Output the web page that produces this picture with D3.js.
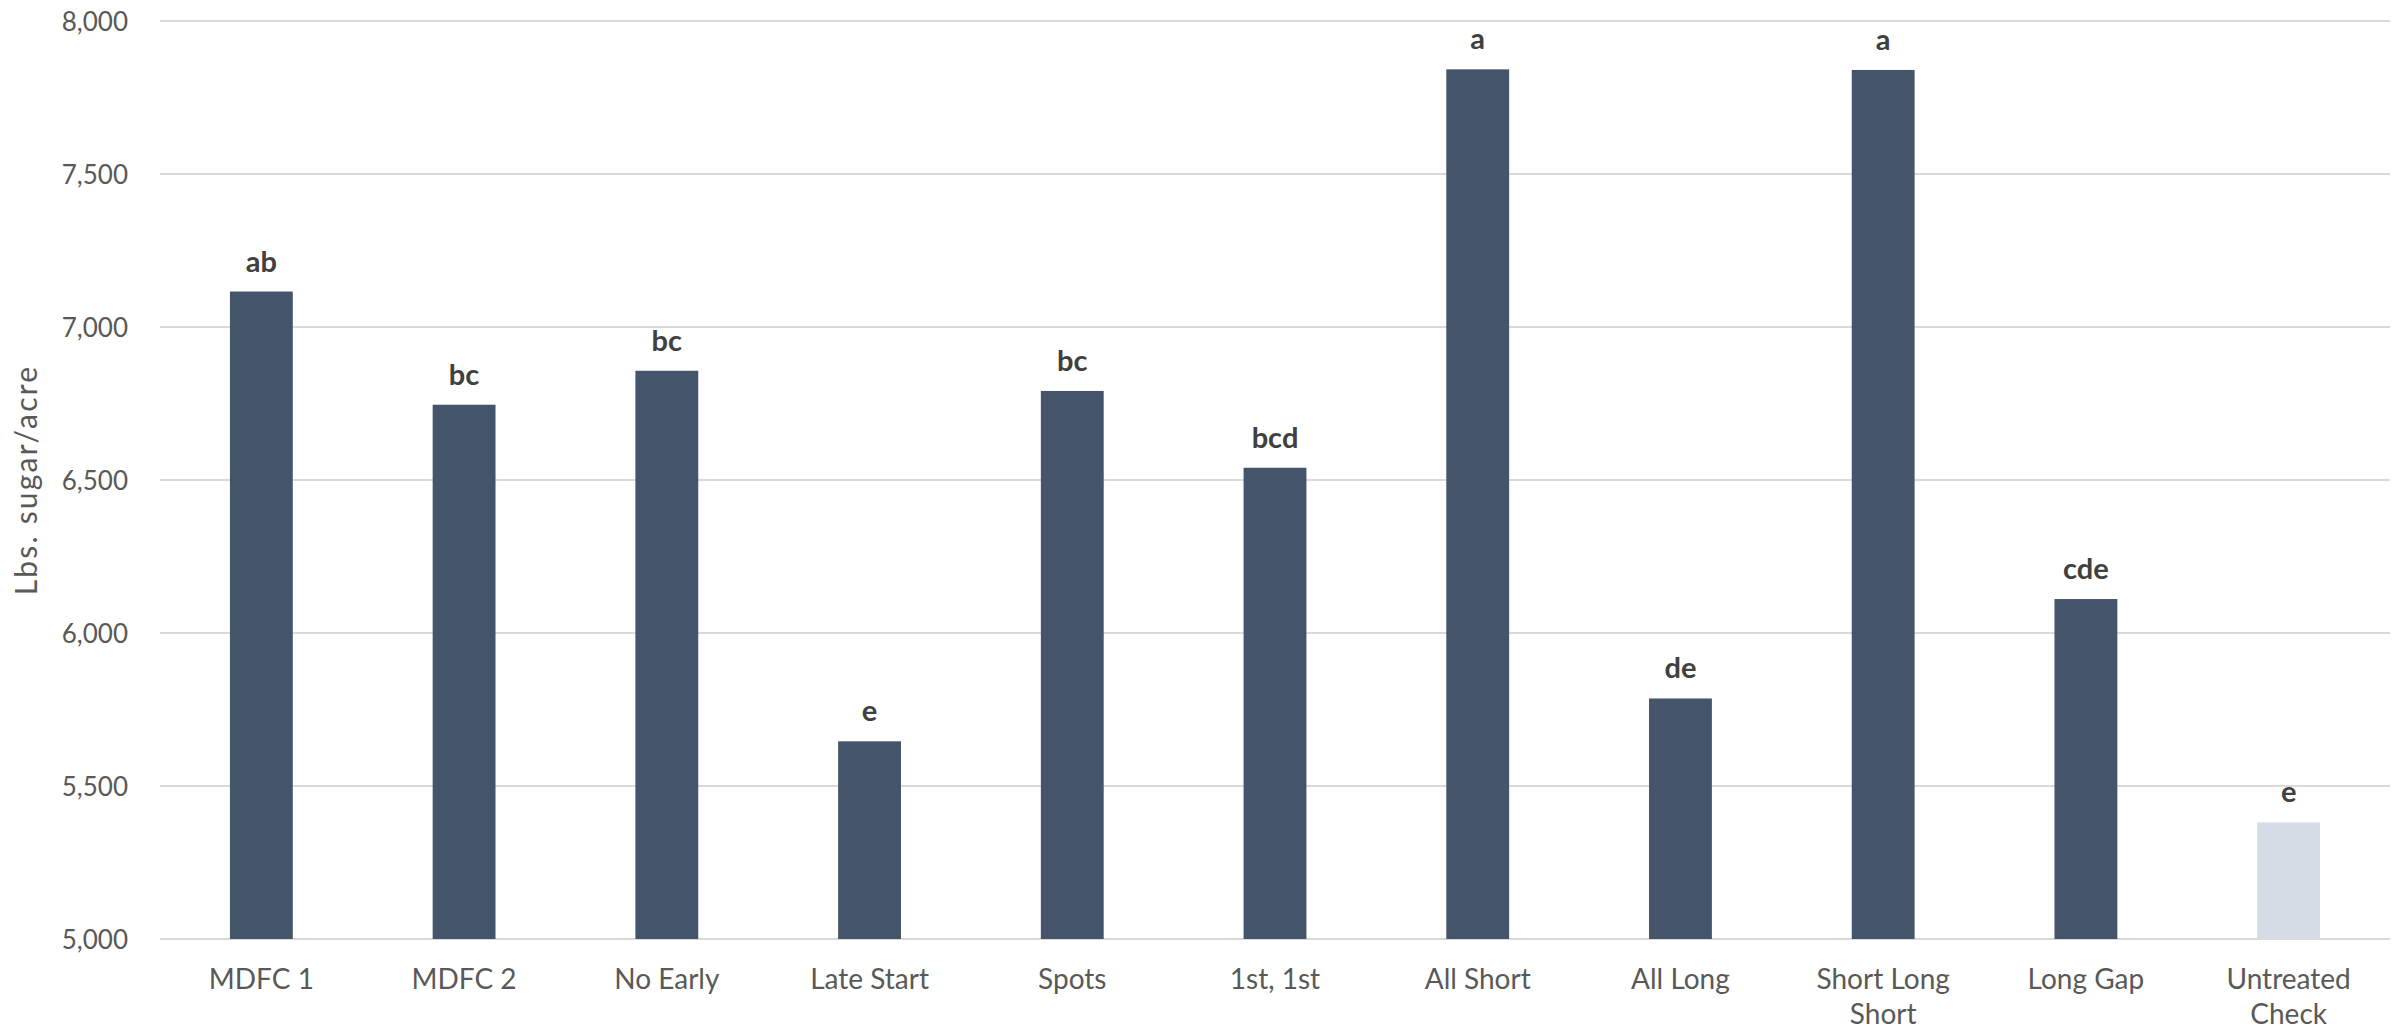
<!DOCTYPE html>
<html>
<head>
<meta charset="utf-8">
<script src="https://cdn.jsdelivr.net/npm/d3@7"></script>
<style>
  html, body { margin: 0; padding: 0; background: #fff; }
  svg { display: block; }
</style>
</head>
<body>
<svg id="chart" width="2402" height="1032"></svg>
<script>
const categories = ["MDFC 1", "MDFC 2", "No Early", "Late Start", "Spots", "1st, 1st", "All Short", "All Long", "Short Long Short", "Long Gap", "Untreated Check"];
const categoryLines = [["MDFC 1"], ["MDFC 2"], ["No Early"], ["Late Start"], ["Spots"], ["1st, 1st"], ["All Short"], ["All Long"], ["Short Long", "Short"], ["Long Gap"], ["Untreated", "Check"]];
const values = [7116, 6746, 6857, 5646, 6791, 6540, 7842, 5786, 7840, 6111, 5381];
const letters = ["ab", "bc", "bc", "e", "bc", "bcd", "a", "de", "a", "cde", "e"];
const yTicks = [5000, 5500, 6000, 6500, 7000, 7500, 8000];
const yTitle = "Lbs. sugar/acre";

(function () {
const FONT = "Lato, 'Open Sans', sans-serif";
const svg = d3.select("#chart");
const mLeft = 160, mRight = 2390, mTop = 21, mBottom = 939;

const x = d3.scaleBand().domain(categories).range([mLeft, mRight]).paddingInner(0.69).paddingOuter(0.345);
const y = d3.scaleLinear().domain([5000, 8000]).range([mBottom, mTop]);

// gridlines
svg.append("g").selectAll("line").data(yTicks).join("line")
  .attr("x1", mLeft).attr("x2", mRight)
  .attr("y1", d => y(d)).attr("y2", d => y(d))
  .attr("stroke", "#D9D9D9").attr("stroke-width", 2);

// y axis labels
const yAxis = d3.axisLeft(y).tickValues(yTicks).tickSize(0).tickPadding(0).tickFormat(d3.format(","));
const gy = svg.append("g").attr("transform", `translate(${mLeft - 32},0)`).call(yAxis);
gy.select(".domain").remove();
gy.selectAll("text").attr("font-family", FONT).attr("font-size", 26).attr("fill", "#595959").attr("dy", "0.35em");

// y title
svg.append("text")
  .attr("transform", `translate(37,${(mTop + mBottom) / 2}) rotate(-90)`)
  .attr("text-anchor", "middle")
  .attr("font-family", FONT).attr("font-size", 30).attr("letter-spacing", 2.2).attr("fill", "#595959")
  .text(yTitle);

// bars
svg.append("g").selectAll("rect").data(categories).join("rect")
  .attr("x", d => x(d))
  .attr("width", x.bandwidth())
  .attr("y", (d, i) => y(values[i]))
  .attr("height", (d, i) => y(5000) - y(values[i]))
  .attr("fill", (d, i) => i === categories.length - 1 ? "#D6DCE5" : "#44546A");

// data labels
svg.append("g").selectAll("text").data(categories).join("text")
  .attr("x", d => x(d) + x.bandwidth() / 2)
  .attr("y", (d, i) => y(values[i]) - 20)
  .attr("text-anchor", "middle")
  .attr("font-family", FONT).attr("font-size", 29).attr("font-weight", "bold").attr("fill", "#404040")
  .text((d, i) => letters[i]);

// x labels
const xl = svg.append("g").selectAll("text").data(categories).join("text")
  .attr("x", d => x(d) + x.bandwidth() / 2)
  .attr("y", 989)
  .attr("text-anchor", "middle")
  .attr("font-family", FONT).attr("font-size", 28).attr("fill", "#595959");
xl.each(function (d, i) {
  const t = d3.select(this);
  categoryLines[i].forEach((line, j) => {
    t.append("tspan").attr("x", x(d) + x.bandwidth() / 2).attr("dy", j === 0 ? 0 : 35).text(line);
  });
});
})();
</script>
</body>
</html>
